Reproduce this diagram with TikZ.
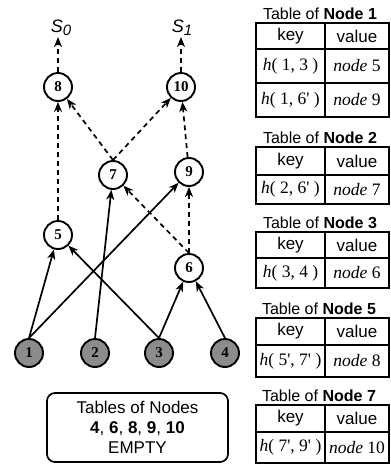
\documentclass[tikz,border=0pt]{standalone}
\usepackage{fontspec}
\setmainfont{Liberation Serif}
\setsansfont{Liberation Sans}
\usetikzlibrary{shapes,arrows.meta,positioning,calc}

\begin{document}
\begin{tikzpicture}[x=1pt, y=-1pt,
    >={Stealth[length=10pt,width=8pt,inset=3pt]},
    vertex/.style={circle, draw, line width=1.9pt, minimum size=28pt, inner sep=0pt,
        font=\fontsize{15}{15}\selectfont\bfseries},
    leaf/.style={vertex, fill=black!45},
    solidarrow/.style={->, line width=1.7pt},
    dasharrow/.style={->, line width=1.7pt, dash pattern=on 5pt off 4pt},
    sink/.style={inner sep=1pt, font=\sffamily\itshape\fontsize{18}{18}\selectfont},
    ttitle/.style={inner sep=0pt, anchor=south, font=\sffamily\fontsize{16}{16}\selectfont},
    cell/.style={draw, line width=1.7pt, inner sep=0pt, outer sep=0pt,
        font=\fontsize{17.5}{17.5}\selectfont},
    keycell/.style={cell, minimum width=69pt},
    valcell/.style={cell, minimum width=64pt},
    hdr/.style={font=\sffamily\fontsize{17}{17}\selectfont}
]
\useasboundingbox (0,0) rectangle (391,464);

% Graph
\node[vertex] (n8) at (58,87) {8};
\node[vertex] (n10) at (181,87) {10};
\node[vertex] (n7) at (113,175) {7};
\node[vertex] (n9) at (189,172) {9};
\node[vertex] (n5) at (58,235) {5};
\node[vertex] (n6) at (189,268) {6};
\node[leaf] (n1) at (29,353) {1};
\node[leaf] (n2) at (95,353) {2};
\node[leaf] (n3) at (159,353) {3};
\node[leaf] (n4) at (225,353) {4};

\node[sink] (s0) at (61,28) {S\raisebox{-3pt}{\fontsize{15}{15}\selectfont 0}};
\node[sink] (s1) at (182,28) {S\raisebox{-3pt}{\fontsize{15}{15}\selectfont 1}};

\draw[solidarrow] (n1.north) -- (n5);
\draw[solidarrow] (n1.north) -- (n9);
\draw[solidarrow] (n2.north) -- (n7);
\draw[solidarrow] (n3.north) -- (n5);
\draw[solidarrow] (n3.north) -- (n6);
\draw[solidarrow] (n4.north) -- (n6);

\draw[dasharrow] (n5) -- (n8);
\draw[dasharrow] (n6.north) -- (n7);
\draw[dasharrow] (n6.north) -- (n9);
\draw[dasharrow] (n7.north) -- (n8);
\draw[dasharrow] (n7.north) -- (n10);
\draw[dasharrow] (n9) -- (n10);
\draw[dasharrow] (n8.north) -- (n8.north |- s0.south);
\draw[dasharrow] (n10.north) -- (n10.north |- s1.south);

% Note
\node[draw, line width=1.7pt, rounded corners=8pt, minimum width=181pt, minimum height=69pt,
    align=center, font=\sffamily\fontsize{17}{20}\selectfont] (note) at (137.5,427.5)
    {Tables of Nodes\\\textbf{4}, \textbf{6}, \textbf{8}, \textbf{9}, \textbf{10}\\EMPTY};

% Table of Node 1
\node[ttitle] (t1) at (320,20) {Table of \textbf{Node 1}};
\node[keycell, minimum height=26pt, anchor=north west, hdr] (t1k) at (256,23) {key};
\node[valcell, minimum height=26pt, right=0pt of t1k, hdr] (t1v) {value};
\node[keycell, minimum height=34pt, below=0pt of t1k] (t1ka) {\textit{h}( 1, 3 )};
\node[valcell, minimum height=34pt, right=0pt of t1ka] (t1va) {\textit{node} 5};
\node[keycell, minimum height=34pt, below=0pt of t1ka] (t1kb) {\textit{h}( 1, 6\textquotesingle\ )};
\node[valcell, minimum height=34pt, right=0pt of t1kb] (t1vb) {\textit{node} 9};

% Table of Node 2
\node[ttitle] (t2) at (320,144) {Table of \textbf{Node 2}};
\node[keycell, minimum height=28pt, anchor=north west, hdr] (t2k) at (256,147) {key};
\node[valcell, minimum height=28pt, right=0pt of t2k, hdr] (t2v) {value};
\node[keycell, minimum height=29pt, below=0pt of t2k] (t2ka) {\textit{h}( 2, 6\textquotesingle\ )};
\node[valcell, minimum height=29pt, right=0pt of t2ka] (t2va) {\textit{node} 7};

% Table of Node 3
\node[ttitle] (t3) at (320,229) {Table of \textbf{Node 3}};
\node[keycell, minimum height=26pt, anchor=north west, hdr] (t3k) at (256,232) {key};
\node[valcell, minimum height=26pt, right=0pt of t3k, hdr] (t3v) {value};
\node[keycell, minimum height=30pt, below=0pt of t3k] (t3ka) {\textit{h}( 3, 4 )};
\node[valcell, minimum height=30pt, right=0pt of t3ka] (t3va) {\textit{node} 6};

% Table of Node 5
\node[ttitle] (t5) at (319,315) {Table of \textbf{Node 5}};
\node[keycell, minimum height=27pt, anchor=north west, hdr] (t5k) at (256,318) {key};
\node[valcell, minimum height=27pt, right=0pt of t5k, hdr] (t5v) {value};
\node[keycell, minimum height=32pt, below=0pt of t5k] (t5ka) {\textit{h}( 5\textquotesingle, 7\textquotesingle\ )};
\node[valcell, minimum height=32pt, right=0pt of t5ka] (t5va) {\textit{node} 8};

% Table of Node 7
\node[ttitle] (t7) at (319,402) {Table of \textbf{Node 7}};
\node[keycell, minimum height=27pt, anchor=north west, hdr] (t7k) at (256,405) {key};
\node[valcell, minimum height=27pt, right=0pt of t7k, hdr] (t7v) {value};
\node[keycell, minimum height=31pt, below=0pt of t7k] (t7ka) {\textit{h}( 7\textquotesingle, 9\textquotesingle\ )};
\node[valcell, minimum height=31pt, right=0pt of t7ka] (t7va) {\textit{node} 10};
\end{tikzpicture}
\end{document}
